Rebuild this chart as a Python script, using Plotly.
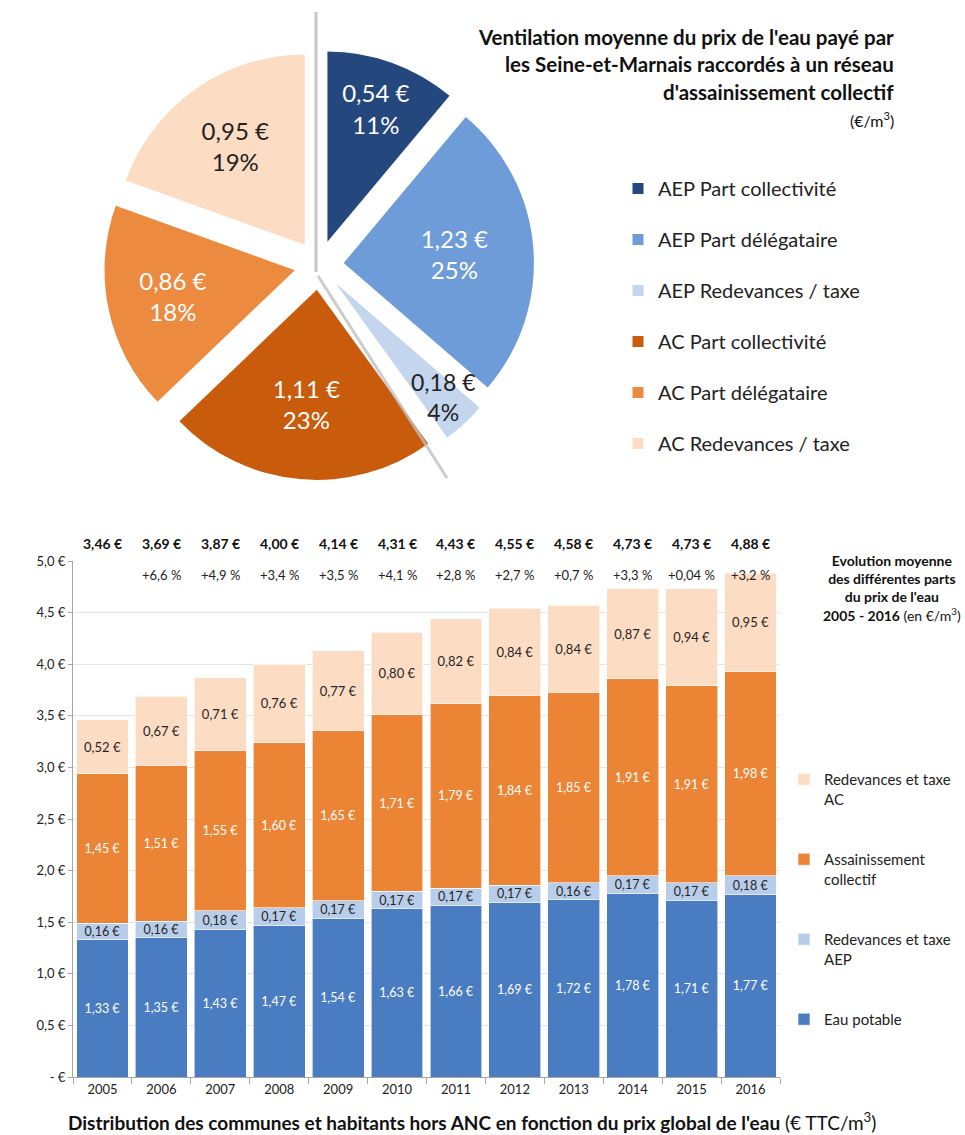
import plotly.graph_objects as go

# --- pie data ---
pie_labels = ["AEP Part collectivité", "AEP Part délégataire", "AEP Redevances / taxe",
              "AC Part collectivité", "AC Part délégataire", "AC Redevances / taxe"]
pie_values = [0.54, 1.23, 0.18, 1.11, 0.86, 0.95]
pie_pct = ["11%", "25%", "4%", "23%", "18%", "19%"]

# --- bar data ---
years = ["2005", "2006", "2007", "2008", "2009", "2010",
         "2011", "2012", "2013", "2014", "2015", "2016"]
eau_potable = [1.33, 1.35, 1.43, 1.47, 1.54, 1.63, 1.66, 1.69, 1.72, 1.78, 1.71, 1.77]
redev_aep = [0.16, 0.16, 0.18, 0.17, 0.17, 0.17, 0.17, 0.17, 0.16, 0.17, 0.17, 0.18]
assainissement = [1.45, 1.51, 1.55, 1.60, 1.65, 1.71, 1.79, 1.84, 1.85, 1.91, 1.91, 1.98]
redev_ac = [0.52, 0.67, 0.71, 0.76, 0.77, 0.80, 0.82, 0.84, 0.84, 0.87, 0.94, 0.95]
totals = [3.46, 3.69, 3.87, 4.00, 4.14, 4.31, 4.43, 4.55, 4.58, 4.73, 4.73, 4.88]
evolution = ["", "+6,6 %", "+4,9 %", "+3,4 %", "+3,5 %", "+4,1 %",
             "+2,8 %", "+2,7 %", "+0,7 %", "+3,3 %", "+0,04 %", "+3,2 %"]
y_ticks = [0, 0.5, 1.0, 1.5, 2.0, 2.5, 3.0, 3.5, 4.0, 4.5, 5.0]
y_ticktext = ["- €", "0,5 €", "1,0 €", "1,5 €", "2,0 €", "2,5 €",
              "3,0 €", "3,5 €", "4,0 €", "4,5 €", "5,0 €"]

FONT = "Lato"
pie_colors = ["#24477D", "#6E9CD8", "#C3D6EE", "#C95B0C", "#EC8B40", "#FCDCC3"]
pie_text_colors = ["white", "white", "#222222", "white", "white", "#222222"]


def euro(v):
    return ("%.2f" % v).replace(".", ",") + " €"


# the small slice gets its label placed by hand, plotly would shrink it
pie_templates = ["%{value:.2f} €<br>%{text}"] * 6
pie_templates[2] = ""

fig = go.Figure()

fig.add_trace(go.Pie(
    labels=pie_labels,
    values=pie_values,
    text=pie_pct,
    texttemplate=pie_templates,
    textposition="inside",
    insidetextorientation="horizontal",
    textfont=dict(family=FONT, size=24, color=pie_text_colors),
    marker=dict(colors=pie_colors, line=dict(width=0)),
    sort=False,
    direction="clockwise",
    rotation=0,
    pull=[0.13] * 6,
    domain=dict(x=[103 / 965, 535 / 965], y=[1 - 480 / 1135, 1 - 50 / 1135]),
    showlegend=False,
    hoverinfo="label+value",
))

# legend entries for the pie (own legend, spaced like the original)
for i, (lab, col) in enumerate(zip(pie_labels, pie_colors)):
    fig.add_trace(go.Scatter(
        x=[None], y=[None], mode="markers", name=lab,
        xaxis="x2", yaxis="y2",
        marker=dict(symbol="square", size=11, color=col),
        legend="legend2", legendgroup="p%d" % i, showlegend=True,
    ))

bar_series = [
    ("Eau potable", eau_potable, "#4A7CC1", "white"),
    ("Redevances et taxe<br>AEP", redev_aep, "#B7CDEA", "#262626"),
    ("Assainissement<br>collectif", assainissement, "#EB8535", "white"),
    ("Redevances et taxe<br>AC", redev_ac, "#FCDCC2", "#262626"),
]
for i, (name, vals, col, tcol) in enumerate(bar_series):
    fig.add_trace(go.Bar(
        x=years, y=vals, name=name,
        marker=dict(color=col, line=dict(color="white", width=0.6)),
        texttemplate="%{y:.2f} €",
        textposition="inside",
        insidetextanchor="middle",
        textangle=0,
        constraintext="none",
        textfont=dict(family=FONT, size=13 if i == 3 else 12.5, color=tcol),
        legendgroup="b%d" % i,
        legendrank=10 - i,
    ))

annotations = []
# category index is used so "2005" is not read as a numeric position
for i, (tot, ev) in enumerate(zip(totals, evolution)):
    annotations.append(dict(
        x=i, y=5.0, xref="x", yref="y", yshift=17,
        text="<b>%s</b>" % euro(tot),
        showarrow=False, font=dict(family=FONT, size=14, color="#111111")))
    if ev:
        annotations.append(dict(
            x=i, y=5.0, xref="x", yref="y", yshift=-14,
            text=ev, showarrow=False,
            font=dict(family=FONT, size=13, color="#222222")))

annotations.append(dict(
    x=443 / 965, y=1 - 397 / 1135, xref="paper", yref="paper",
    xanchor="center", yanchor="middle", showarrow=False,
    text="%s<br>%s" % (euro(pie_values[2]), pie_pct[2]),
    font=dict(family=FONT, size=23, color="#222222")))

pie_title = ["<b>Ventilation moyenne du prix de l'eau payé par</b>",
             "<b>les Seine-et-Marnais raccordés à un réseau</b>",
             "<b>d'assainissement collectif</b>",
             "(€/m<sup>3</sup>)"]
for k, line in enumerate(pie_title):
    annotations.append(dict(
        x=896 / 965, y=1 - (37 + 27.5 * k) / 1135, xref="paper", yref="paper",
        xanchor="right", yanchor="middle", text=line, showarrow=False,
        font=dict(family=FONT, size=20.5 if k < 3 else 16, color="#111111")))

annotations.append(dict(
    x=892 / 965, y=1 - 550 / 1135, xref="paper", yref="paper",
    xanchor="center", yanchor="top", align="center", showarrow=False,
    text="<b>Evolution moyenne<br>des différentes parts<br>du prix de l'eau<br>2005 - 2016</b> (en €/m<sup>3</sup>)",
    font=dict(family=FONT, size=14, color="#111111")))

annotations.append(dict(
    x=66 / 965, y=1 - 1121 / 1135, xref="paper", yref="paper",
    xanchor="left", yanchor="middle", showarrow=False,
    text="<b>Distribution des communes et habitants hors ANC en fonction du prix global de l'eau</b> (€ TTC/m<sup>3</sup>)",
    font=dict(family=FONT, size=19, color="#111111")))

shapes = [
    dict(type="line", xref="paper", yref="paper",
         x0=316 / 965, x1=316 / 965, y0=1 - 12 / 1135, y1=1 - 272 / 1135,
         line=dict(color="#C8C8C8", width=3)),
    dict(type="line", xref="paper", yref="paper",
         x0=318 / 965, x1=447 / 965, y0=1 - 276 / 1135, y1=1 - 478 / 1135,
         line=dict(color="#C0C0C0", width=3), opacity=0.8),
]

fig.update_layout(
    width=965, height=1135,
    margin=dict(l=0, r=0, t=0, b=0),
    paper_bgcolor="white", plot_bgcolor="white",
    separators=", ",
    barmode="stack",
    bargap=0.12,
    font=dict(family=FONT, color="#222222"),
    xaxis=dict(domain=[73 / 965, 780 / 965], type="category",
               range=[-0.5, len(years) - 0.5],
               tickson="boundaries", ticks="outside", ticklen=6,
               tickcolor="#A6A6A6", showline=True, linecolor="#A6A6A6",
               tickfont=dict(family=FONT, size=13, color="#222222"),
               showgrid=False, automargin=False),
    yaxis=dict(domain=[1 - 1077 / 1135, 1 - 561 / 1135], range=[0, 5],
               tickvals=y_ticks, ticktext=y_ticktext, ticks="outside",
               ticklen=4, tickcolor="#A6A6A6", showline=True,
               linecolor="#A6A6A6", gridcolor="#E3E3E3",
               tickfont=dict(family=FONT, size=13, color="#222222"),
               zeroline=False, automargin=False),
    xaxis2=dict(visible=False, domain=[0, 0.01], anchor="y2", automargin=False),
    yaxis2=dict(visible=False, domain=[0.99, 1], anchor="x2", automargin=False),
    legend=dict(x=784 / 965, y=1 - 763 / 1135, xanchor="left", yanchor="top",
                traceorder="grouped", tracegroupgap=38,
                valign="top", font=dict(family=FONT, size=15, color="#222222"),
                bgcolor="rgba(0,0,0,0)"),
    legend2=dict(x=618 / 965, y=1 - 169 / 1135, xanchor="left", yanchor="top",
                 traceorder="grouped", tracegroupgap=22,
                 font=dict(family=FONT, size=20, color="#222222"),
                 bgcolor="rgba(0,0,0,0)"),
    annotations=annotations,
    shapes=shapes,
)

# page body margin would shift the whole figure by 8px
fig.write_html("out.html", config={"displayModeBar": False},
               post_script="document.body.style.margin='0px';")
